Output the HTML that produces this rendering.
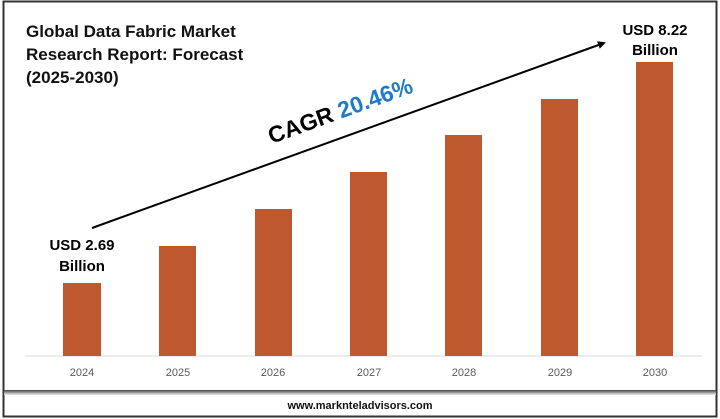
<!DOCTYPE html>
<html><head><meta charset="utf-8"><style>
html,body{margin:0;padding:0;background:#fff}
svg{display:block}
text{font-family:"Liberation Sans",sans-serif}
</style></head><body>
<svg width="720" height="419" viewBox="0 0 720 419" xmlns="http://www.w3.org/2000/svg">
<defs>
<linearGradient id="sep" x1="0" y1="0" x2="0" y2="1">
<stop offset="0" stop-color="#444"/><stop offset="0.5" stop-color="#999"/><stop offset="1" stop-color="#eee"/>
</linearGradient>
<marker id="ah" markerWidth="8" markerHeight="8" refX="6" refY="4" orient="auto" markerUnits="userSpaceOnUse">
<path d="M0,0 L8,4 L0,8 Z" fill="#000"/>
</marker>
</defs>
<rect x="3.5" y="1.5" width="713" height="415" fill="#fff" stroke="#333" stroke-width="2"/>
<rect x="4" y="390" width="712" height="5" fill="url(#sep)"/>
<text x="26" y="37" font-size="17" font-weight="bold" fill="#111">Global Data Fabric Market</text>
<text x="26" y="60" font-size="17" font-weight="bold" fill="#111">Research Report: Forecast</text>
<text x="26" y="83" font-size="17" font-weight="bold" fill="#111">(2025-2030)</text>
<line x1="25" y1="356" x2="702" y2="356" stroke="#d9d9d9" stroke-width="1"/>
<g fill="#BE582E">
<rect x="63" y="283" width="38" height="73"/>
<rect x="159" y="246" width="37" height="110"/>
<rect x="255" y="209" width="37" height="147"/>
<rect x="350" y="172" width="37" height="184"/>
<rect x="445" y="135" width="37" height="221"/>
<rect x="541" y="99" width="37" height="257"/>
<rect x="636" y="62" width="37" height="294"/>
</g>
<g font-size="11" fill="#595959" text-anchor="middle">
<text x="82" y="376">2024</text><text x="178" y="376">2025</text><text x="273" y="376">2026</text>
<text x="369" y="376">2027</text><text x="464" y="376">2028</text><text x="560" y="376">2029</text><text x="655" y="376">2030</text>
</g>
<line x1="92" y1="228" x2="604" y2="43" stroke="#000" stroke-width="2" marker-end="url(#ah)"/>
<g transform="translate(343,118) rotate(-20)">
<text x="0" y="0" text-anchor="middle" font-size="23" font-weight="bold"><tspan fill="#000">CAGR </tspan><tspan fill="#1F7BC8">20.46%</tspan></text>
</g>
<g font-size="15" font-weight="bold" fill="#000" text-anchor="middle">
<text x="82" y="250">USD 2.69</text><text x="82" y="271">Billion</text>
<text x="655" y="35">USD 8.22</text><text x="655" y="55">Billion</text>
</g>
<text x="360" y="409" font-size="11" font-weight="bold" fill="#111" text-anchor="middle">www.marknteladvisors.com</text>
</svg>
</body></html>
